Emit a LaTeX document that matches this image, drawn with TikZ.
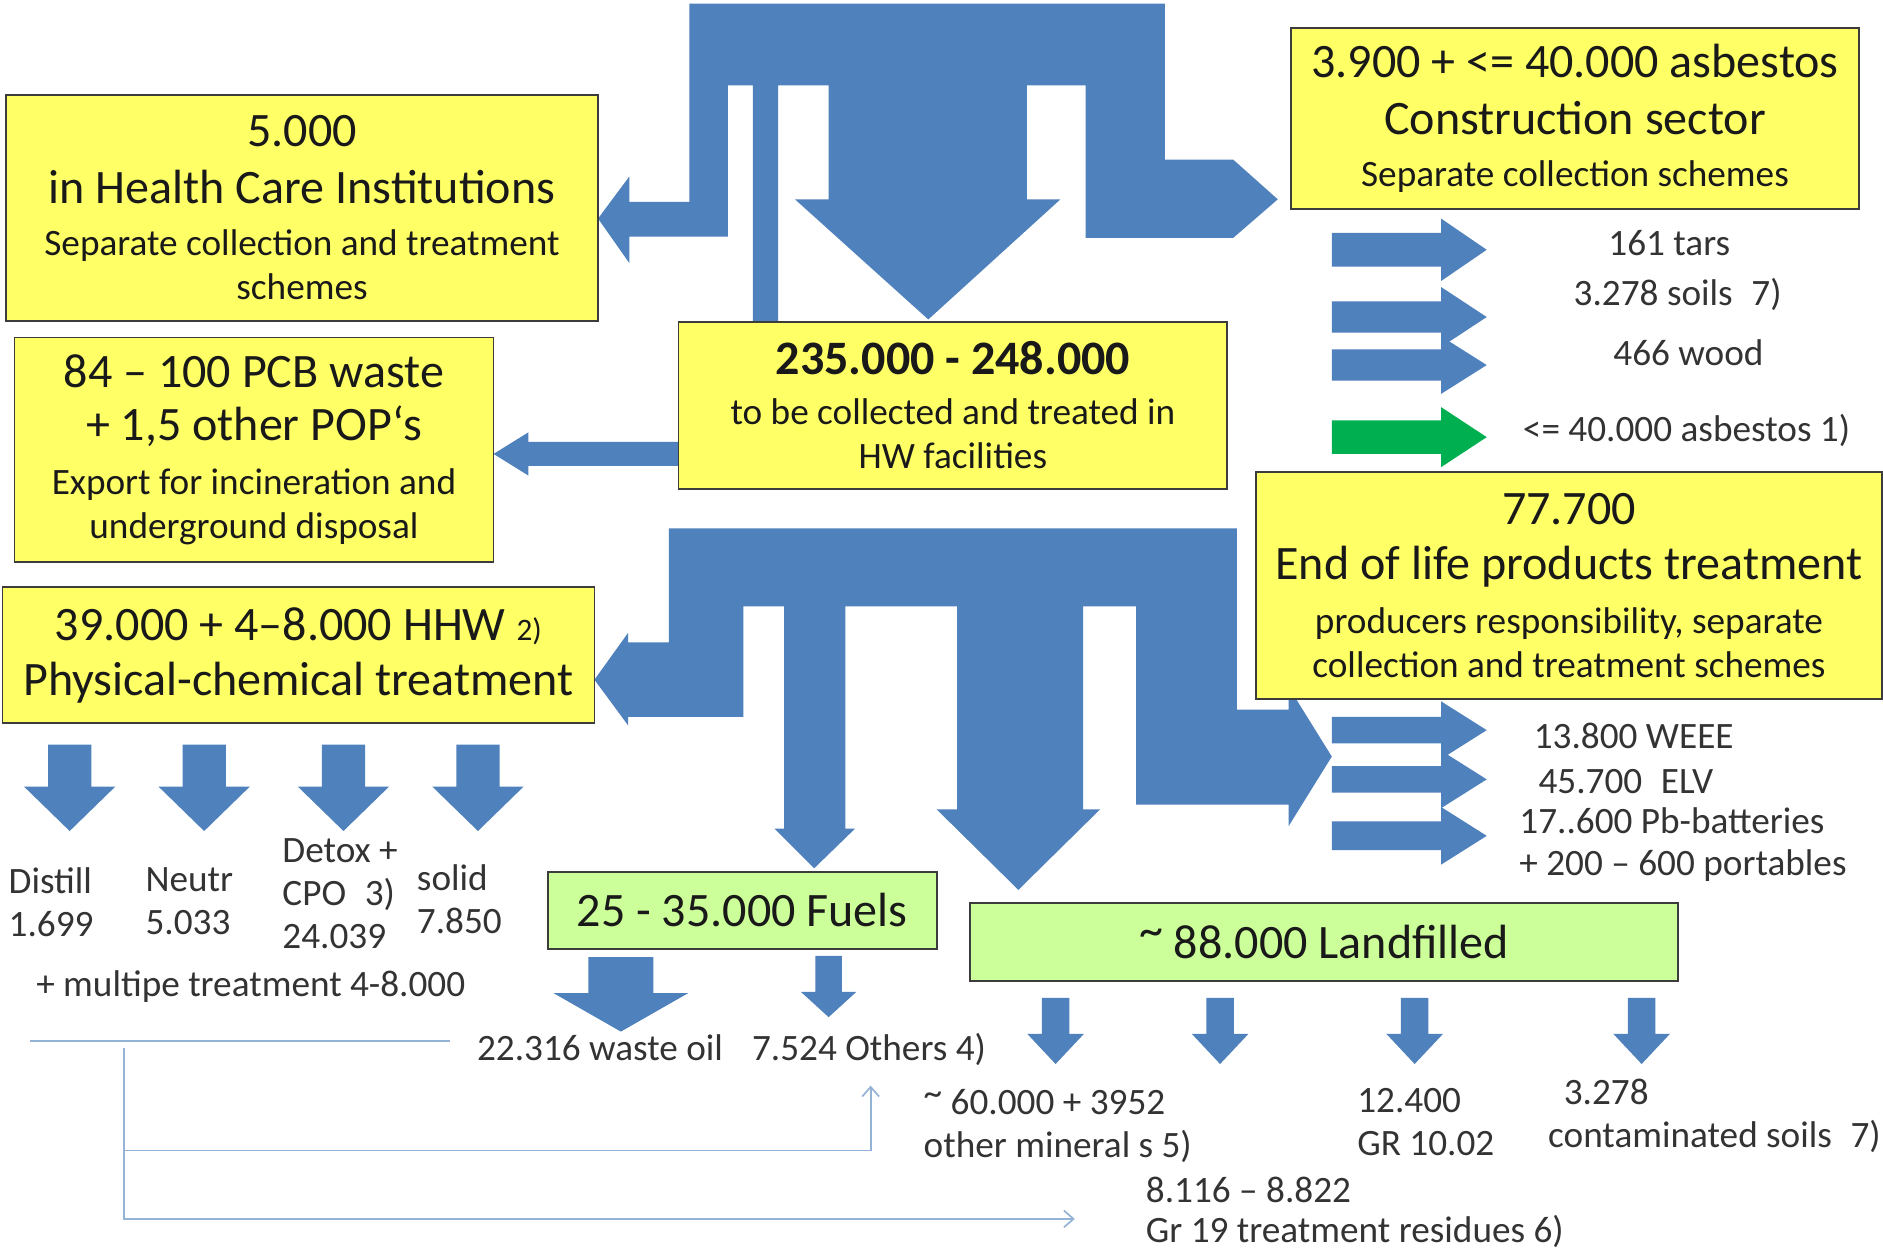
\documentclass[tikz,border=0pt]{standalone}
\usepackage{fontspec}
\setmainfont{Carlito}
\usetikzlibrary{arrows.meta}
\definecolor{flowblue}{RGB}{79,129,189}
\definecolor{boxyellow}{RGB}{255,255,102}
\definecolor{boxgreen}{RGB}{204,255,153}
\definecolor{boxline}{RGB}{60,60,60}
\definecolor{asbgreen}{RGB}{0,176,80}
\definecolor{thinblue}{RGB}{149,179,215}
\newcommand{\lgtxt}{\fontsize{40}{47}\selectfont}
\newcommand{\smtxt}{\fontsize{31}{37}\selectfont}
\newcommand{\uptilde}{\raisebox{0.25em}{\textasciitilde}}
\begin{document}
\begin{tikzpicture}[x=1pt,y=-1pt,
    ybox/.style={draw=boxline,line width=1.5pt,fill=boxyellow,inner sep=0pt,align=center,
      text=black!90,font={\smtxt\lineskiplimit=-100pt}},
    gbox/.style={ybox,fill=boxgreen},
    lbl/.style={inner sep=0pt,text=black!80,font={\fontsize{31}{36}\selectfont\lineskiplimit=-100pt}},
    mlbl/.style={lbl,align=left,anchor=north west},
    thinflow/.style={draw=thinblue,line width=1.4pt}]
    \useasboundingbox (0,0) rectangle (1568,1044);
    \fill[white] (0,0) rectangle (1568,1044);

    % upper distribution arrow
    \fill[flowblue] (574,3) -- (970,3) -- (970,133) -- (1027,133) -- (1064,166) -- (1027,198)
        -- (904,198) -- (904,71) -- (855,71) -- (855,166) -- (883,166) -- (773,266) -- (662,166)
        -- (690,166) -- (690,71) -- (648,71) -- (648,268) -- (627,268) -- (627,71) -- (606,71)
        -- (606,197) -- (524,197) -- (524,219) -- (498,182) -- (524,147) -- (524,168) -- (574,168) -- cycle;
    \fill[flowblue] (565,368) -- (440,368) -- (440,360) -- (411,378) -- (440,396) -- (440,388) -- (565,388) -- cycle;

    % lower distribution arrow
    \fill[flowblue] (557,440) -- (1030,440) -- (1030,591) -- (1073,591) -- (1073,572) -- (1109,630)
        -- (1073,688) -- (1073,670) -- (946,670) -- (946,505) -- (902,505) -- (902,674) -- (916,674)
        -- (848,741) -- (780,674) -- (797,674) -- (797,505) -- (704,505) -- (704,690) -- (712,690)
        -- (678,723) -- (645,690) -- (653,690) -- (653,505) -- (619,505) -- (619,597) -- (523,597)
        -- (523,604) -- (495,566) -- (523,527) -- (523,535) -- (557,535) -- cycle;

    % small arrows
    \foreach \yc/\hw/\hh/\col in {208/14/26/flowblue,264/13/25/flowblue,304/13/24/flowblue,364/14/25/asbgreen,
                                   608/11/24/flowblue,649/11/24/flowblue,696/12/24/flowblue}
        \fill[\col] (1109,{\yc-\hw}) -- (1200,{\yc-\hw}) -- (1200,{\yc-\hh}) -- (1238,\yc)
            -- (1200,{\yc+\hh}) -- (1200,{\yc+\hw}) -- (1109,{\yc+\hw}) -- cycle;
    \foreach \xc in {58,170,286,398}
        \fill[flowblue] ({\xc-18},620) -- ({\xc+18},620) -- ({\xc+18},655) -- ({\xc+38},655) -- (\xc,692)
            -- ({\xc-38},655) -- ({\xc-18},655) -- cycle;
    \foreach \xc in {879,1016,1178,1367}
        \fill[flowblue] ({\xc-11.5},831) -- ({\xc+11.5},831) -- ({\xc+11.5},861) -- ({\xc+23.5},861) -- (\xc,886)
            -- ({\xc-23.5},861) -- ({\xc-11.5},861) -- cycle;
    \fill[flowblue] (490,797) -- (544,797) -- (544,827) -- (573,827) -- (517,859) -- (461,827) -- (490,827) -- cycle;
    \fill[flowblue] (679,796) -- (701,796) -- (701,826) -- (713,826) -- (690,847) -- (667,826) -- (679,826) -- cycle;

    % boxes
    \node[ybox,minimum width=493,minimum height=188] (hci) at (251.5,173)
        {\lgtxt 5.000\\[10pt]\lgtxt in Health Care Institutions\\[6pt]Separate collection and treatment\\schemes};
    \node[ybox,minimum width=399,minimum height=187] (pcb) at (211.5,374.5)
        {\lgtxt 84 – 100 PCB waste\\[7pt]\lgtxt + 1,5 other POP‘s\\[8pt]Export for incineration and\\underground disposal};
    \node[ybox,minimum width=457,minimum height=139] (hw) at (793.5,337.5)
        {\lgtxt\bfseries 235.000 - 248.000\\[4pt]to be collected and treated in\\HW facilities};
    \node[ybox,minimum width=473,minimum height=151] (cons) at (1311.5,98.5)
        {\lgtxt 3.900 + <= 40.000 asbestos\\[10pt]\lgtxt Construction sector\\[6pt]Separate collection schemes};
    \node[ybox,minimum width=493,minimum height=113] (pct) at (248.5,545.5)
        {\lgtxt 39.000 + 4–8.000 HHW {\fontsize{26}{30}\selectfont 2)}\\[9pt]\lgtxt Physical-chemical treatment};
    \node[ybox,minimum width=521,minimum height=189] (eol) at (1306.5,487.5)
        {\lgtxt 77.700\\[9pt]\lgtxt End of life products treatment\\[8pt]producers responsibility, separate\\[-1pt]collection and treatment schemes};
    \node[gbox,minimum width=324,minimum height=64] (fuels) at (618,758) {\lgtxt 25 - 35.000 Fuels};
    \node[gbox,minimum width=589,minimum height=65] (lfill) at (1102.5,784.5) {\lgtxt \uptilde\ 88.000 Landfilled};

    % labels
    \node[lbl,anchor=base] (tars) at (1390,213) {161 tars};
    \node[lbl,anchor=base] (csoil) at (1397,254) {3.278 soils\hspace{0.5em}7)};
    \node[lbl,anchor=base] (wood) at (1406,304) {466 wood};
    \node[lbl,anchor=base west] (asb) at (1268,368) {<= 40.000 asbestos 1)};
    \node[lbl,anchor=base west] (weee) at (1277,623) {13.800 WEEE};
    \node[lbl,anchor=base west] (elv) at (1281,661) {45.700\hspace{0.5em}ELV};
    \node[lbl,anchor=base west] (pbb) at (1265,694) {17..600 Pb-batteries};
    \node[lbl,anchor=base west] (port) at (1265,729) {+ 200 – 600 portables};
    \node[mlbl] (distill) at (7,722) {Distill\\1.699};
    \node[mlbl] (neutr) at (121,722) {Neutr\\5.033};
    \node[mlbl] (detox) at (235,698) {Detox +\\CPO\hspace{0.5em}3)\\24.039};
    \node[mlbl] (solid) at (347,720) {solid\\7.850};
    \node[lbl,anchor=base west] (multi) at (30,830) {+ multipe treatment 4-8.000};
    \node[lbl,anchor=base west] (woil) at (397,883) {22.316 waste oil};
    \node[lbl,anchor=base west] (others) at (626,883) {7.524 Others 4)};
    \node[mlbl] (mineral) at (769,907) {\uptilde\ 60.000 + 3952\\other mineral s 5)};
    \node[mlbl] (gr1002) at (1130,906) {12.400\\GR 10.02};
    \node[mlbl] (soil) at (1289,898) {\hspace{13pt}3.278\\contaminated soils\hspace{0.5em}7)};
    \node[mlbl] (resid) at (954,980) {8.116 – 8.822\\[-3pt]Gr 19 treatment residues 6)};

    % residue lines
    \coordinate (rl) at (25,867);
    \coordinate (rr) at (375,867);
    \coordinate (rv) at (103,873);
    \coordinate (ro) at (725,904);
    \coordinate (rg) at (895,1015);
    \draw[thinflow] (rl) -- (rr);
    \draw[thinflow,-{Straight Barb[length=8pt,width=14pt]}] (rv) |- (rg);
    \draw[thinflow,-{Straight Barb[length=8pt,width=14pt]}] (rv |- 0,958) -| (ro);
\end{tikzpicture}
\end{document}
